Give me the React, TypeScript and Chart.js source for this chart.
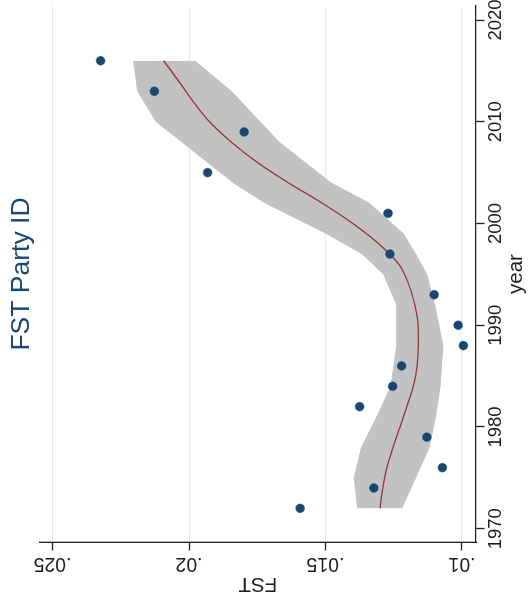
import { useEffect, useRef } from 'react';
import { Chart, registerables } from 'chart.js';

Chart.register(...registerables);

// Observed data points (year, FST)
const pointYears = [1972, 1974, 1976, 1979, 1982, 1984, 1986, 1988, 1990, 1993, 1997, 2001, 2005, 2009, 2013, 2016];
const pointFst = [0.01593, 0.01323, 0.01072, 0.01129, 0.01375, 0.01254, 0.01221, 0.00995, 0.01014, 0.01102, 0.01264, 0.01271, 0.01932, 0.01798, 0.02127, 0.02324];

// Local polynomial fit
const fitYears = [1972, 1974, 1976, 1978, 1980, 1982, 1984, 1986, 1988, 1990, 1992, 1994, 1996, 1998, 2000, 2002, 2004, 2006, 2008, 2010, 2012, 2014, 2016];
const fitFst = [0.0130, 0.0129, 0.01275, 0.01252, 0.01227, 0.01202, 0.01178, 0.01164, 0.0116, 0.01161, 0.01173, 0.01195, 0.01232, 0.01305, 0.014, 0.01512, 0.01636, 0.0175, 0.01845, 0.01925, 0.01985, 0.02038, 0.02093];

// Confidence band
const ciYears = [1972, 1975, 1978, 1981, 1984, 1988, 1992, 1995, 1997, 1999, 2002, 2004, 2008, 2010, 2013, 2016];
const ciUpper = [0.01382, 0.01395, 0.01368, 0.01312, 0.0126, 0.01239, 0.01239, 0.01287, 0.01365, 0.01495, 0.0172, 0.01837, 0.02025, 0.0212, 0.02188, 0.02203];
const ciLower = [0.01221, 0.0117, 0.0112, 0.01097, 0.0108, 0.0107, 0.011, 0.01129, 0.0117, 0.01215, 0.0134, 0.0148, 0.0167, 0.0174, 0.01845, 0.0198];

// Axis ticks
const yearTicks = [1970, 1980, 1990, 2000, 2010, 2020];
const fstTicks = [0.01, 0.015, 0.02, 0.025];
const fstTickLabels = ['.01', '.015', '.02', '.025'];

const NAVY = '#1a476f';
const MAROON = '#90353b';
const BAND = '#c2c2c2';
const INK = '#1c1c1c';
const GRID = '#e1eaee';

const toXY = (xs: number[], ys: number[]) => xs.map((x, i) => ({ x, y: ys[i] }));

export default function App() {
  const ref = useRef<HTMLCanvasElement>(null);

  useEffect(() => {
    if (!ref.current) return;
    Chart.defaults.font.family = "'Liberation Sans', Arial, Helvetica, sans-serif";
    const chart = new Chart(ref.current, {
      type: 'scatter',
      data: {
        datasets: [
          {
            label: 'FST',
            data: toXY(pointYears, pointFst),
            backgroundColor: NAVY,
            borderColor: NAVY,
            pointRadius: 4.4,
            pointBorderWidth: 0.5,
            showLine: false,
          },
          {
            label: 'fit',
            data: toXY(fitYears, fitFst),
            showLine: true,
            borderColor: MAROON,
            borderWidth: 1.3,
            pointRadius: 0,
            cubicInterpolationMode: 'monotone',
            fill: false,
          },
          {
            label: 'upper',
            data: toXY(ciYears, ciUpper),
            showLine: true,
            borderColor: BAND,
            borderWidth: 1,
            backgroundColor: BAND,
            pointRadius: 0,
            tension: 0,
            fill: '+1',
          },
          {
            label: 'lower',
            data: toXY(ciYears, ciLower),
            showLine: true,
            borderColor: BAND,
            borderWidth: 1,
            pointRadius: 0,
            tension: 0,
            fill: false,
          },
        ],
      },
      options: {
        animation: false,
        responsive: false,
        devicePixelRatio: 1,
        layout: { padding: { left: 0, right: 6, top: 0, bottom: 0 } },
        plugins: {
          legend: { display: false },
          tooltip: { enabled: false },
          title: {
            display: true,
            text: 'FST Party ID',
            fullSize: false,
            color: NAVY,
            font: { size: 26.5, weight: 'normal' },
            padding: { top: 5.9, bottom: 1.9 },
          },
        },
        scales: {
          x: {
            type: 'linear',
            min: 1968.69,
            max: 2021.38,
            afterBuildTicks: (s: any) => {
              s.ticks = yearTicks.map((v) => ({ value: v }));
            },
            afterFit: (s: any) => {
              s.height = 55;
              s.paddingLeft = 0;
              s.paddingRight = 0;
            },
            grid: {
              drawOnChartArea: false,
              drawTicks: true,
              tickLength: 8.5,
              tickColor: INK,
              tickWidth: 1.3,
            },
            border: { display: true, color: INK, width: 1.3 },
            ticks: {
              color: INK,
              font: { size: 18.5 },
              padding: 0,
              maxRotation: 0,
              minRotation: 0,
              autoSkip: false,
              callback: (v: any) => String(v),
            },
            title: {
              display: true,
              text: 'year',
              color: INK,
              font: { size: 20.5 },
              padding: { top: 0, bottom: 2.8 },
            },
          },
          y: {
            type: 'linear',
            min: 0.009487,
            max: 0.025473,
            afterBuildTicks: (s: any) => {
              s.ticks = fstTicks.map((v) => ({ value: v }));
            },
            afterFit: (s: any) => {
              s.width = 72;
              s.paddingTop = 0;
              s.paddingBottom = 0;
            },
            grid: {
              display: true,
              drawOnChartArea: true,
              color: GRID,
              lineWidth: 1,
              drawTicks: true,
              tickLength: 8.5,
              tickColor: INK,
              tickWidth: 1.3,
            },
            border: { display: true, color: INK, width: 1.3 },
            ticks: {
              color: INK,
              font: { size: 19.5 },
              padding: -5.7,
              minRotation: 90,
              maxRotation: 90,
              crossAlign: 'center',
              autoSkip: false,
              callback: (v: any) => {
                let best = 0;
                fstTicks.forEach((t, i) => {
                  if (Math.abs(t - v) < Math.abs(fstTicks[best] - v)) best = i;
                });
                return fstTickLabels[best];
              },
            },
            title: {
              display: true,
              text: 'FST',
              color: INK,
              font: { size: 20.5 },
              padding: { top: 17.6, bottom: 0 },
            },
          },
        },
      } as any,
    });
    return () => chart.destroy();
  }, []);

  return (
    <div
      style={{
        position: 'fixed',
        left: 0,
        top: 0,
        width: 531,
        height: 614,
        overflow: 'hidden',
        background: '#ffffff',
      }}
    >
      <canvas
        ref={ref}
        width={614}
        height={531}
        style={{
          position: 'absolute',
          left: 0,
          top: 0,
          width: 614,
          height: 531,
          transformOrigin: '0 0',
          transform: 'translateY(614px) rotate(-90deg)',
        }}
      />
    </div>
  );
}
